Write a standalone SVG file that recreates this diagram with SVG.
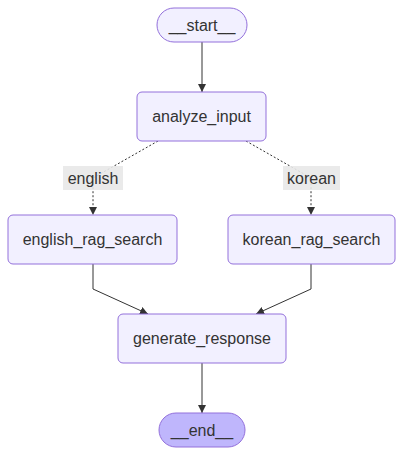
<svg xmlns="http://www.w3.org/2000/svg" width="404" height="456" viewBox="0 0 404 456">
<defs>
<style>
.node rect{fill:#f2f0ff;stroke:#9370DB;stroke-width:1}
.node text{font-family:"Liberation Sans",Arial,sans-serif;font-size:16px;fill:#333;text-anchor:middle;dominant-baseline:central}
.term rect{fill:#f2f0ff}
.endn rect{fill:#bfb6fc}
.edge{fill:none;stroke:#333;stroke-width:1}
.dot{stroke-dasharray:2 2}
.lbl rect{fill:#e8e8e8;opacity:0.9}
.lbl text{font-family:"Liberation Sans",Arial,sans-serif;font-size:16px;fill:#333;text-anchor:middle;dominant-baseline:central}
</style>
<marker id="arr" viewBox="0 0 10 10" refX="10" refY="5" markerWidth="8" markerHeight="8" markerUnits="userSpaceOnUse" orient="auto">
<path d="M0,0 L10,5 L0,10 z" fill="#333"/>
</marker>
</defs>
<rect width="404" height="456" fill="#fff"/>
<g id="connectors">
<path class="edge" d="M202,42 L202,92" marker-end="url(#arr)"/>
<path class="edge dot" d="M158,141 L93,178 L93,215" marker-end="url(#arr)"/>
<path class="edge dot" d="M246,141 L311,178 L311,215" marker-end="url(#arr)"/>
<path class="edge" d="M93,264 L93,289 L148,314" marker-end="url(#arr)"/>
<path class="edge" d="M311,264 L311,289 L256,314" marker-end="url(#arr)"/>
<path class="edge" d="M202,363 L202,413" marker-end="url(#arr)"/>
</g>
<g id="label-english" class="lbl"><rect x="63" y="166" width="60" height="24"/><text x="93" y="178">english</text></g>
<g id="label-korean" class="lbl"><rect x="283" y="166" width="57" height="24"/><text x="311.5" y="178">korean</text></g>
<g id="start" class="node term"><rect x="157" y="8" width="90" height="34" rx="17"/><text x="202" y="25">__start__</text></g>
<g id="analyze_input" class="node"><rect x="137" y="92" width="129" height="49" rx="5"/><text x="201.5" y="116.5">analyze_input</text></g>
<g id="english_rag_search" class="node"><rect x="8" y="215" width="169" height="49" rx="5"/><text x="92.5" y="239.5">english_rag_search</text></g>
<g id="korean_rag_search" class="node"><rect x="228" y="215" width="167" height="49" rx="5"/><text x="311.5" y="239.5">korean_rag_search</text></g>
<g id="generate_response" class="node"><rect x="118" y="314" width="168" height="49" rx="5"/><text x="202" y="338.5">generate_response</text></g>
<g id="end" class="node endn"><rect x="159" y="413" width="86" height="34" rx="17"/><text x="202" y="430">__end__</text></g>
</svg>
